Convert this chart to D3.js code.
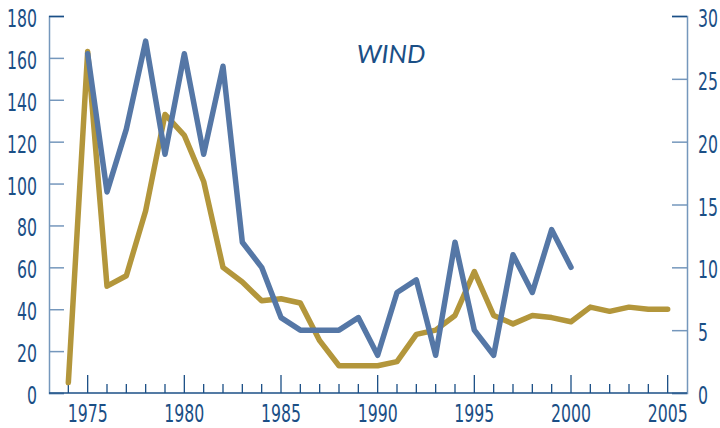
<!DOCTYPE html>
<html>
<head>
<meta charset="utf-8">
<script src="https://cdn.jsdelivr.net/npm/d3@7"></script>
<style>
body { margin: 0; background: #fff; }
text { font-family: "Liberation Sans Narrow", "DejaVu Sans Condensed", "DejaVu Sans", sans-serif; font-stretch: condensed; }
</style>
</head>
<body>
<script>
// data
var goldYears = d3.range(1974, 2006);
var goldValues = [5, 163, 51, 56, 87, 133, 123, 101, 60, 53, 44, 45, 43, 25, 13, 13, 13, 15, 28, 30, 37, 58, 37, 33, 37, 36, 34, 41, 39, 41, 40, 40];
var blueYears = d3.range(1975, 2001);
var blueValues = [27, 16, 21, 28, 19, 27, 19, 26, 12, 10, 6, 5, 5, 5, 6, 3, 8, 9, 3, 12, 5, 3, 11, 8, 13, 10];
var leftTicks = [0, 20, 40, 60, 80, 100, 120, 140, 160, 180];
var rightTicks = [0, 5, 10, 15, 20, 25, 30];
var yearLabels = [1975, 1980, 1985, 1990, 1995, 2000, 2005];

const W = 720, H = 428;
const mLeft = 49, mRight = 687, mTop = 16, mBottom = 393;
const dark = '#1b4f86';
const axisBlue = '#7597bc';

const svg = d3.select('body')
    .append('svg')
    .attr('width', W)
    .attr('height', H);

const x = d3.scaleLinear().domain([1973, 2006]).range([mLeft, mRight]);
const yL = d3.scaleLinear().domain([0, 180]).range([mBottom, mTop]);
const yR = d3.scaleLinear().domain([0, 30]).range([mBottom, mTop]);

// left axis
const gl = svg.append('g').attr('transform', `translate(${mLeft},0)`)
    .call(d3.axisLeft(yL).tickValues(leftTicks).tickSize(-15).tickPadding(12));
gl.select('.domain').attr('stroke', axisBlue).attr('stroke-width', 1.5);
gl.selectAll('.tick line').attr('stroke', axisBlue).attr('stroke-width', 1.5);
gl.selectAll('.tick text')
    .attr('fill', dark)
    .attr('font-size', 25)
    .attr('dy', '0.42em');

// right axis
const gr = svg.append('g').attr('transform', `translate(${mRight},0)`)
    .call(d3.axisRight(yR).tickValues(rightTicks).tickSize(-15).tickPadding(11));
gr.select('.domain').attr('stroke', axisBlue).attr('stroke-width', 1.5);
gr.selectAll('.tick line').attr('stroke', axisBlue).attr('stroke-width', 1.5);
gr.selectAll('.tick text')
    .attr('fill', dark)
    .attr('font-size', 25)
    .attr('dy', '0.42em');

// top ticks are darker
svg.selectAll('.tick').filter(d => d === 180 || d === 30).select('line').attr('stroke', dark);

// bottom axis with yearly ticks
const gb = svg.append('g').attr('transform', `translate(0,${mBottom})`);
gb.append('line')
    .attr('x1', mLeft).attr('x2', mRight)
    .attr('stroke', dark).attr('stroke-width', 1.5);
gb.selectAll('.yr')
    .data(d3.range(1974, 2006))
    .enter()
    .append('line')
    .attr('class', 'yr')
    .attr('x1', d => x(d)).attr('x2', d => x(d))
    .attr('y1', 0)
    .attr('y2', d => d % 5 === 0 ? -18 : -9)
    .attr('stroke', dark)
    .attr('stroke-width', 1.3);
gb.selectAll('.lbl')
    .data(yearLabels)
    .enter()
    .append('text')
    .attr('class', 'lbl')
    .attr('x', d => x(d))
    .attr('y', 29)
    .attr('text-anchor', 'middle')
    .attr('fill', dark)
    .attr('font-size', 25)
    .text(d => d);

// squeeze the labels to look condensed
svg.selectAll('text').each(function () {
    const t = d3.select(this);
    const tx = +t.attr('x') || 0;
    t.attr('transform', `translate(${tx},0) scale(0.7,1) translate(${-tx},0)`);
});

// lines
const goldLine = d3.line()
    .x((d, i) => x(goldYears[i]))
    .y(d => yL(d));
const blueLine = d3.line()
    .x((d, i) => x(blueYears[i]))
    .y(d => yR(d));

svg.append('path')
    .attr('d', goldLine(goldValues))
    .attr('fill', 'none')
    .attr('stroke', '#b3963b')
    .attr('stroke-width', 5.5)
    .attr('stroke-linejoin', 'round')
    .attr('stroke-linecap', 'round');

svg.append('path')
    .attr('d', blueLine(blueValues))
    .attr('fill', 'none')
    .attr('stroke', '#5577a6')
    .attr('stroke-width', 5.5)
    .attr('stroke-linejoin', 'round')
    .attr('stroke-linecap', 'round');

// title
svg.append('text')
    .attr('x', 391)
    .attr('y', 63)
    .attr('text-anchor', 'middle')
    .attr('fill', dark)
    .attr('font-size', 26)
    .attr('font-style', 'italic')
    .style('font-family', 'Lato, "Open Sans", sans-serif')
    .style('font-stretch', 'normal')
    .text('WIND');
</script>
</body>
</html>
